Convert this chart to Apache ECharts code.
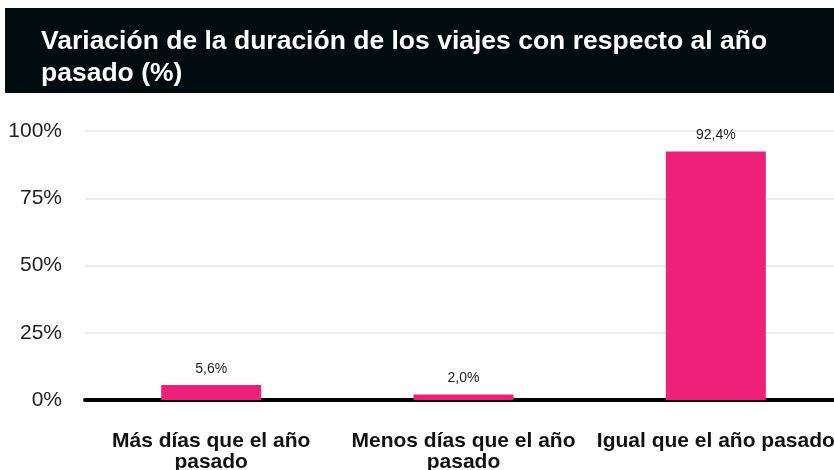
<!DOCTYPE html>
<html>
<head>
<meta charset="utf-8">
<script src="https://cdn.jsdelivr.net/npm/echarts@6/dist/echarts.min.js"></script>
<style>
  html, body { margin: 0; padding: 0; background: #fff; }
  #chart { width: 834px; height: 470px; }
</style>
</head>
<body>
<div id="chart"></div>
<script>
// Trip length compared with last year (%)
const categories = ['Más días que el año pasado', 'Menos días que el año pasado', 'Igual que el año pasado'];
const shares = [5.6, 2.0, 92.4];
const yTicks = [0, 25, 50, 75, 100];

const chart = echarts.init(document.getElementById('chart'));

const fmt = v => v.toFixed(1).replace('.', ',') + '%';
const FONT = 'Liberation Sans, Arial, sans-serif';

chart.setOption({
  animation: false,
  graphic: [{
    type: 'rect',
    shape: { x: 5, y: 8, width: 840, height: 85 },
    style: { fill: '#020c0e' },
    z: 0
  }],
  title: {
    text: 'Variación de la duración de los viajes con respecto al año\npasado (%)',
    left: 36,
    top: 21,
    textStyle: {
      color: '#ffffff',
      fontFamily: FONT,
      fontWeight: 'bold',
      fontSize: 26.5,
      lineHeight: 32
    },
    z: 10
  },
  grid: {
    left: 85, top: 131, right: -8, bottom: 70,
    containLabel: false,
    outerBoundsMode: 'none'
  },
  xAxis: {
    type: 'category',
    data: categories,
    axisTick: { show: false },
    axisLine: { show: true, lineStyle: { color: '#000', width: 4 } },
    axisLabel: {
      interval: 0,
      margin: 31,
      color: '#111',
      fontFamily: FONT,
      fontWeight: 'bold',
      fontSize: 21,
      lineHeight: 21,
      formatter: v => v === 'Igual que el año pasado' ? v : v.replace(' año pasado', ' año\npasado')
    }
  },
  yAxis: {
    type: 'value',
    min: yTicks[0],
    max: yTicks[yTicks.length - 1],
    interval: 25,
    axisLine: { show: false },
    axisTick: { show: false },
    axisLabel: {
      margin: 23,
      color: '#222',
      fontFamily: FONT,
      fontSize: 21,
      formatter: v => v + '%'
    },
    splitLine: { lineStyle: { color: '#ececec', width: 2 } }
  },
  series: [{
    type: 'bar',
    data: shares,
    barWidth: 100,
    itemStyle: { color: '#ee2077' },
    label: {
      show: true,
      position: 'top',
      distance: 9,
      color: '#222',
      fontFamily: FONT,
      fontSize: 14,
      formatter: p => fmt(p.value)
    }
  }]
});
</script>
</body>
</html>
